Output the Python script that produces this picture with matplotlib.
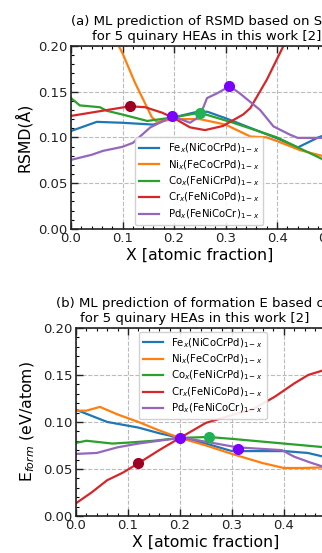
import numpy as np
from matplotlib import pyplot as plt
from matplotlib.ticker import MultipleLocator

# ============================================================================
# Data (x = atomic fraction)
# ============================================================================
labels = [r"Fe$_x$(NiCoCrPd)$_{1-x}$", r"Ni$_x$(FeCoCrPd)$_{1-x}$",
          r"Co$_x$(FeNiCrPd)$_{1-x}$", r"Cr$_x$(FeNiCoPd)$_{1-x}$",
          r"Pd$_x$(FeNiCoCr)$_{1-x}$"]
colors = ["#1f77b4", "#ff7f0e", "#2ca02c", "#d62728", "#9467bd"]

# panel (a): RSMD
a_fe_x = [0.0, 0.05, 0.10, 0.16, 0.20, 0.245, 0.265, 0.30, 0.35, 0.40, 0.44, 0.48, 0.50]
a_fe_y = [0.107, 0.117, 0.116, 0.114, 0.122, 0.128, 0.128, 0.121, 0.110, 0.099, 0.089, 0.100, 0.104]
a_ni_x = [0.085, 0.10, 0.124, 0.157, 0.167, 0.20, 0.25, 0.30, 0.348, 0.38, 0.40, 0.445, 0.50]
a_ni_y = [0.208, 0.192, 0.160, 0.122, 0.117, 0.120, 0.120, 0.114, 0.101, 0.100, 0.096, 0.086, 0.078]
a_co_x = [0.0, 0.017, 0.056, 0.07, 0.10, 0.148, 0.20, 0.25, 0.315, 0.40, 0.50]
a_co_y = [0.143, 0.135, 0.133, 0.129, 0.125, 0.118, 0.122, 0.127, 0.116, 0.100, 0.073]
a_cr_x = [0.0, 0.114, 0.144, 0.177, 0.20, 0.231, 0.26, 0.295, 0.334, 0.348, 0.38, 0.415]
a_cr_y = [0.1235, 0.134, 0.133, 0.127, 0.121, 0.111, 0.108, 0.1125, 0.125, 0.132, 0.163, 0.203]
a_pd_x = [0.0, 0.04, 0.062, 0.099, 0.12, 0.148, 0.154, 0.183, 0.196, 0.231, 0.244, 0.257,
          0.264, 0.283, 0.308, 0.328, 0.367, 0.393, 0.425, 0.44, 0.50]
a_pd_y = [0.0755, 0.081, 0.0853, 0.0896, 0.094, 0.108, 0.111, 0.119, 0.1235, 0.116, 0.121, 0.133,
          0.143, 0.148, 0.156, 0.148, 0.130, 0.112, 0.103, 0.0995, 0.0995]
a_mark_x = [0.114, 0.196, 0.25, 0.306]
a_mark_y = [0.134, 0.1235, 0.127, 0.156]

# panel (b): formation energy
b_fe_x = [0.0, 0.06, 0.12, 0.16, 0.20, 0.25, 0.30, 0.35, 0.40, 0.446, 0.50]
b_fe_y = [0.113, 0.100, 0.094, 0.088, 0.083, 0.077, 0.069, 0.069, 0.069, 0.067, 0.060]
b_ni_x = [0.0, 0.02, 0.046, 0.08, 0.12, 0.16, 0.20, 0.25, 0.30, 0.358, 0.40, 0.435, 0.50]
b_ni_y = [0.112, 0.112, 0.116, 0.108, 0.100, 0.091, 0.083, 0.075, 0.066, 0.0564, 0.051, 0.051, 0.052]
b_co_x = [0.0, 0.02, 0.07, 0.10, 0.15, 0.20, 0.255, 0.30, 0.40, 0.50]
b_co_y = [0.0777, 0.080, 0.077, 0.078, 0.080, 0.083, 0.084, 0.082, 0.077, 0.072]
b_cr_x = [0.0, 0.03, 0.06, 0.09, 0.12, 0.16, 0.20, 0.25, 0.31, 0.339, 0.383, 0.42, 0.447, 0.50]
b_cr_y = [0.0135, 0.025, 0.038, 0.046, 0.056, 0.070, 0.083, 0.099, 0.109, 0.113, 0.127, 0.141, 0.150, 0.159]
b_pd_x = [0.0, 0.04, 0.08, 0.12, 0.16, 0.20, 0.229, 0.31, 0.396, 0.42, 0.45, 0.50]
b_pd_y = [0.066, 0.067, 0.073, 0.077, 0.080, 0.083, 0.081, 0.073, 0.070, 0.063, 0.057, 0.048]
b_mark_x = [0.12, 0.20, 0.255, 0.312]
b_mark_y = [0.056, 0.083, 0.084, 0.071]

mark_colors = ["#9e0024", "#7a00ff", "#1fb153", "#7a00ff"]

# ============================================================================
# Style
# ============================================================================
plt.rcParams["xtick.direction"] = "in"
plt.rcParams["ytick.direction"] = "in"
plt.rcParams["xtick.top"] = True
plt.rcParams["ytick.right"] = True

fig = plt.figure(figsize=(3.22, 5.53), dpi=100)
ax_a = fig.add_axes([0.2205, 0.586, 0.80, 0.331])
ax_b = fig.add_axes([0.236, 0.067, 0.807, 0.340])


def style_axis(ax, ylabel):
    ax.set_xlim(0, 0.5)
    ax.set_ylim(0, 0.2)
    ax.xaxis.set_major_locator(MultipleLocator(0.1))
    ax.xaxis.set_minor_locator(MultipleLocator(0.02))
    ax.yaxis.set_major_locator(MultipleLocator(0.05))
    ax.yaxis.set_minor_locator(MultipleLocator(0.01))
    ax.tick_params(which="major", length=5, width=1, labelsize=9.5, colors="#222222", pad=2.5)
    ax.tick_params(which="minor", length=2.5, width=0.8)
    ax.grid(True, which="major", linestyle="--", color="#bbbbbb", linewidth=0.8)
    ax.set_xlabel("X [atomic fraction]", fontsize=11.3, labelpad=2)
    ax.set_ylabel(ylabel, fontsize=11.3)
    for sp in ax.spines.values():
        sp.set_color("#222222")
        sp.set_linewidth(1.2)


# panel (a)
for xs, ys, c, lab in zip([a_fe_x, a_ni_x, a_co_x, a_cr_x, a_pd_x],
                          [a_fe_y, a_ni_y, a_co_y, a_cr_y, a_pd_y], colors, labels):
    ax_a.plot(xs, ys, color=c, lw=1.6, label=lab)
for mx, my, mc in zip(a_mark_x, a_mark_y, mark_colors):
    ax_a.plot(mx, my, "o", color=mc, ms=7, zorder=5)
style_axis(ax_a, "RSMD(Å)")
ax_a.set_title("(a) ML prediction of RSMD based on SRO\nfor 5 quinary HEAs in this work [2]",
               fontsize=9.5, x=0.526, pad=4)
ax_a.legend(loc="lower left", bbox_to_anchor=(0.249, 0.022), borderaxespad=0,
            fontsize=7.3, handlelength=2.0, labelspacing=0.28, framealpha=0.9)

# panel (b)
for xs, ys, c, lab in zip([b_fe_x, b_ni_x, b_co_x, b_cr_x, b_pd_x],
                          [b_fe_y, b_ni_y, b_co_y, b_cr_y, b_pd_y], colors, labels):
    ax_b.plot(xs, ys, color=c, lw=1.6, label=lab)
for mx, my, mc in zip(b_mark_x, b_mark_y, mark_colors):
    ax_b.plot(mx, my, "o", color=mc, ms=7, zorder=5)
style_axis(ax_b, r"E$_{form}$ (eV/atom)")
ax_b.set_title("(b) ML prediction of formation E based on\nfor 5 quinary HEAs in this work [2]",
               fontsize=9.5, x=0.458, pad=4)
ax_b.legend(loc="upper left", bbox_to_anchor=(0.242, 0.979), borderaxespad=0,
            fontsize=7.3, handlelength=2.0, labelspacing=0.28, framealpha=0.9)

fig.savefig("out.png", dpi=100)
